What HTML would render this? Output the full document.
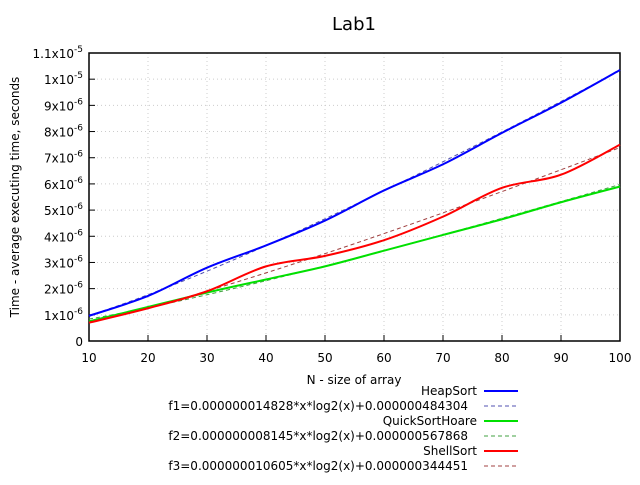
<!DOCTYPE html>
<html><head><meta charset="utf-8"><style>
body{margin:0;background:#fff;font-family:"Liberation Sans","DejaVu Sans",sans-serif}
svg text{font-family:"DejaVu Sans","Liberation Sans",sans-serif;fill:#000}
</style></head><body>
<svg id="chart" width="640" height="480" viewBox="0 0 640 480" xmlns="http://www.w3.org/2000/svg">
<text x="354" y="30" font-size="18" text-anchor="middle">Lab1</text>
<g id="grid"></g>
<g id="axes"></g>
<g id="series"></g>
<text x="354" y="384" font-size="12" text-anchor="middle">N - size of array</text>
<text transform="translate(19,197) rotate(-90)" font-size="12" text-anchor="middle">Time - average executing time, seconds</text>
<g id="legend"></g>
</svg>
<script>
const categories=[10,20,30,40,50,60,70,80,90,100];
const heapValues=[0.96,1.72,2.8,3.65,4.6,5.75,6.75,7.95,9.1,10.35];
const quickValues=[0.75,1.3,1.85,2.35,2.85,3.45,4.05,4.65,5.3,5.9];
const shellValues=[0.7,1.25,1.9,2.85,3.25,3.85,4.75,5.85,6.35,7.5];
const fitA=[0.014828,0.008145,0.010605];
const fitB=[0.484304,0.567868,0.344451];
const xTicks=[10,20,30,40,50,60,70,80,90,100];
const yTicks=[0,1,2,3,4,5,6,7,8,9,10,11];
const yTickLabels=["0","1x10^-6","2x10^-6","3x10^-6","4x10^-6","5x10^-6","6x10^-6","7x10^-6","8x10^-6","9x10^-6","1x10^-5","1.1x10^-5"];
const L=89,R=620,T=53,B=341;
const xs=v=>L+(v-10)/90*(R-L);
const ys=v=>B-v/11*(B-T);
const NS="http://www.w3.org/2000/svg";
function mk(tag,attrs,parent){const e=document.createElementNS(NS,tag);for(const k in attrs)e.setAttribute(k,attrs[k]);parent.appendChild(e);return e;}
const grid=document.getElementById('grid'),axes=document.getElementById('axes'),ser=document.getElementById('series'),leg=document.getElementById('legend');
xTicks.forEach(t=>{
 const x=xs(t);
 if(t>10&&t<100){const g=mk('line',{x1:x,x2:x,y1:T,y2:B,stroke:'#ccc','stroke-dasharray':'1,3'},grid);
 
 }
 const tk=mk('line',{x1:x,x2:x,y1:B,y2:B-6,stroke:'#000'},axes);
 
 
 const lb=mk('text',{x:x,y:B+21,'font-size':12,'text-anchor':'middle'},axes);lb.textContent=t;
 
 
});
yTicks.forEach((t,i)=>{
 const y=ys(t);
 if(t>0&&t<11){const g=mk('line',{x1:L,x2:R,y1:y,y2:y,stroke:'#ccc','stroke-dasharray':'1,3'},grid);
 
 }
 const tk=mk('line',{x1:L,x2:L+6,y1:y,y2:y,stroke:'#000'},axes);
 
 
 const lb=mk('text',{x:L-6,y:y+5,'font-size':12,'text-anchor':'end'},axes);
 
 
 const p=yTickLabels[i].split('^');
 lb.appendChild(document.createTextNode(p[0]));
 if(p[1]){const s=mk('tspan',{dy:-6,'font-size':9},lb);s.textContent=p[1];}
});
const fr=mk('rect',{x:L,y:T,width:R-L,height:B-T,fill:'none',stroke:'#000','stroke-width':1.5},axes);


function smooth(vals){
 const p=categories.map((c,i)=>[xs(c),ys(vals[i])]);
 let d=`M${p[0][0]},${p[0][1]}`;
 for(let i=0;i<p.length-1;i++){
  const p0=p[Math.max(0,i-1)],p1=p[i],p2=p[i+1],p3=p[Math.min(p.length-1,i+2)];
  d+=` C${p1[0]+(p2[0]-p0[0])/6},${p1[1]+(p2[1]-p0[1])/6} ${p2[0]-(p3[0]-p1[0])/6},${p2[1]-(p3[1]-p1[1])/6} ${p2[0]},${p2[1]}`;
 }
 return d;
}
function fitPath(k){
 let d='';
 for(let n=10;n<=100;n+=1){const v=fitA[k]*n*Math.log2(n)+fitB[k];d+=(n===10?'M':'L')+xs(n)+','+ys(v)+' ';}
 return d;
}
const cfg=[
 {vals:heapValues,col:'#0000ff',fit:'#5050b0',name:'HeapSort',f:'f1=0.000000014828*x*log2(x)+0.000000484304',id:'heapsort'},
 {vals:quickValues,col:'#00e000',fit:'#40a040',name:'QuickSortHoare',f:'f2=0.000000008145*x*log2(x)+0.000000567868',id:'quicksort'},
 {vals:shellValues,col:'#ff0000',fit:'#a04040',name:'ShellSort',f:'f3=0.000000010605*x*log2(x)+0.000000344451',id:'shellsort'}
];
cfg.forEach((c,k)=>{
 const fl=mk('path',{d:fitPath(k),fill:'none',stroke:c.fit,'stroke-width':1,'stroke-dasharray':'4,3'},ser);
 
 
 const ln=mk('path',{d:smooth(c.vals),fill:'none',stroke:c.col,'stroke-width':2},ser);
 
 
 const y1=395+k*30,y2=y1+15;
 const t1=mk('text',{x:477,y:y1,'font-size':12,'text-anchor':'end'},leg);t1.textContent=c.name;
 
 
 const s1=mk('line',{x1:484,x2:518,y1:y1-4,y2:y1-4,stroke:c.col,'stroke-width':2},leg);
 
 
 const t2=mk('text',{x:468,y:y2,'font-size':12,'text-anchor':'end'},leg);t2.textContent=c.f;
 
 
 const s2=mk('line',{x1:484,x2:518,y1:y2-4,y2:y2-4,stroke:c.fit,'stroke-width':1,'stroke-dasharray':'4,3'},leg);
 
 
});
</script>
</body></html>
